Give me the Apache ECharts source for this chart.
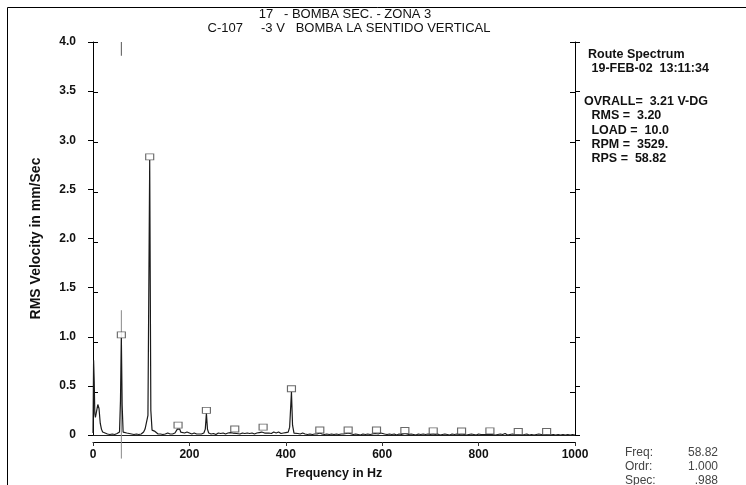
<!DOCTYPE html>
<html>
<head>
<meta charset="utf-8">
<script src="https://cdn.jsdelivr.net/npm/echarts@6/dist/echarts.min.js"></script>
<style>
  html, body { margin: 0; padding: 0; background: #fff; }
  #main { width: 746px; height: 485px; }
</style>
</head>
<body>
<div id="main"></div>
<script>
// spectrum: frequency (Hz) / RMS velocity (mm/s)
var freqHz = [
  0, 1.25, 2.5, 3.75, 5, 7.5, 10, 12.5, 15, 17.5, 20, 25, 30, 35, 40, 45, 50, 53, 55, 57,
  58.82, 60.5, 62.5, 65, 70, 75, 80, 85, 90, 95, 100, 105, 108, 110, 112, 114, 117.64, 120, 122.5, 125,
  127.5, 130, 135, 140, 145, 150, 155, 160, 165, 170, 173, 175, 176.46, 178, 180, 182, 185, 190, 192, 195,
  198, 205, 210, 215, 220, 225, 230, 233, 235.28, 237.5, 240, 245, 250, 255, 260, 265, 270, 275, 280, 285,
  290, 294.1, 298, 302, 305, 310, 315, 320, 325, 330, 335, 340, 345, 350, 352.92, 356, 360, 365, 370, 375,
  380, 385, 390, 395, 400, 405, 408, 411.74, 414, 417, 420, 425, 430, 435, 440, 445, 450, 455, 460, 465,
  470.56, 475, 480, 485, 490, 495, 500, 505, 510, 515, 520, 525, 529.38, 533, 540, 545, 550, 555, 560, 565,
  570, 575, 580, 585, 588.2, 592, 597, 600, 605, 610, 615, 620, 625, 630, 635, 640, 644, 647.02, 650, 655,
  660, 665, 670, 675, 680, 685, 690, 695, 700, 705.84, 710, 715, 720, 725, 730, 735, 740, 745, 750, 755,
  760, 764.66, 770, 775, 780, 785, 790, 795, 800, 805, 808, 811, 815, 820, 823.48, 828, 835, 840, 845, 850,
  855, 860, 865, 870, 875, 882.3, 888, 895, 900, 905, 910, 915, 920, 925, 930, 935, 941.12, 948, 955, 960,
  965, 970, 975, 980, 985, 990, 995, 1000
];
var velocity = [
  0.02, 0.76, 0.55, 0.22, 0.18, 0.2, 0.31, 0.27, 0.12, 0.06, 0.03, 0.02, 0.01, 0.005, 0.01, 0.005, 0.015, 0.01, 0.03, 0.35,
  0.988, 0.3, 0.03, 0.01, 0.02, 0.015, 0.01, 0.005, 0.01, 0.005, 0.01, 0.03, 0.06, 0.04, 0.06, 0.2, 2.80, 0.25, 0.05, 0.03,
  0.04, 0.02, 0.01, 0.01, 0.005, 0.01, 0.02, 0.01, 0.01, 0.02, 0.03, 0.06, 0.07, 0.04, 0.06, 0.03, 0.01, 0.02, 0.01, 0.03,
  0.01, 0.01, 0.02, 0.01, 0.01, 0.01, 0.02, 0.06, 0.22, 0.06, 0.02, 0.01, 0.015, 0.005, 0.02, 0.015, 0.02, 0.01, 0.02, 0.025,
  0.02, 0.03, 0.015, 0.005, 0.01, 0.02, 0.015, 0.02, 0.015, 0.02, 0.01, 0.02, 0.025, 0.03, 0.05, 0.02, 0.03, 0.02, 0.015, 0.03,
  0.02, 0.03, 0.015, 0.02, 0.025, 0.03, 0.08, 0.44, 0.1, 0.02, 0.01, 0.015, 0.01, 0.02, 0.01, 0.005, 0.01, 0.005, 0.01, 0.01,
  0.02, 0.01, 0.005, 0.01, 0.005, 0.01, 0.005, 0.01, 0.005, 0.01, 0.01, 0.015, 0.02, 0.01, 0.005, 0.01, 0.005, 0.0, 0.01, 0.005,
  0.01, 0.005, 0.01, 0.015, 0.02, 0.01, 0.02, 0.005, 0.01, 0.005, 0.01, 0.005, 0.01, 0.0, 0.01, 0.005, 0.01, 0.015, 0.01, 0.005,
  0.01, 0.005, 0.0, 0.01, 0.005, 0.01, 0.005, 0.01, 0.005, 0.012, 0.005, 0.01, 0.0, 0.005, 0.01, 0.005, 0.0, 0.01, 0.005, 0.01,
  0.005, 0.01, 0.005, 0.0, 0.005, 0.01, 0.005, 0.0, 0.01, 0.005, 0.025, 0.005, 0.01, 0.005, 0.012, 0.005, 0.0, 0.005, 0.01, 0.005,
  0.015, 0.0, 0.005, 0.01, 0.005, 0.005, 0.0, 0.005, 0.01, 0.0, 0.005, 0.0, 0.005, 0.01, 0.005, 0.0, 0.005, 0.0, 0.005, 0.0,
  0.005, 0.0, 0.005, 0.0, 0.005, 0.0, 0.005, 0.0
];

// harmonic markers (1X .. 16X of 58.82 Hz)
var harmonicHz = [58.82, 117.64, 176.46, 235.28, 294.1, 352.92, 411.74, 470.56, 529.38, 588.2, 647.02, 705.84, 764.66, 823.48, 882.3, 941.12];
var harmonicAmp = [0.988, 2.80, 0.07, 0.22, 0.03, 0.05, 0.44, 0.02, 0.02, 0.02, 0.015, 0.012, 0.01, 0.012, 0.005, 0.005];

// cursor at 1X
var cursorHz = 58.82;
var cursorSpan = [1.27, -0.24];
var topMark = [4.0, 3.86];

var titleLines = ['17   - BOMBA SEC. - ZONA 3', 'C-107     -3 V   BOMBA LA SENTIDO VERTICAL'];
var infoLines = [
  ['Route Spectrum', 583, 43],
  [' 19-FEB-02  13:11:34', 583, 57],
  ['OVRALL=  3.21 V-DG', 579, 90],
  [' RMS =  3.20', 583, 104],
  [' LOAD =  10.0', 583, 119],
  [' RPM =  3529.', 583, 133],
  [' RPS =  58.82', 583, 147]
];
var cursorLabels = ['Freq:', 'Ordr:', 'Spec:'];
var cursorValues = ['58.82', '1.000', '.988'];

var FONT = '"Liberation Sans", Arial, sans-serif';

var spectrum = freqHz.map(function (f, i) { return [f, velocity[i]] })
var markers = harmonicHz.map(function (f, i) { return [f, harmonicAmp[i]] })

var titles = [
  { text: titleLines[0], left: 340, top: 3, textAlign: 'center',
    textStyle: { fontFamily: FONT, fontSize: 13, fontWeight: 'normal', color: '#111' } },
  { text: titleLines[1], left: 344, top: 17, textAlign: 'center',
    textStyle: { fontFamily: FONT, fontSize: 13, fontWeight: 'normal', color: '#111' } }
]
infoLines.forEach(function (l) {
  titles.push({ text: l[0], left: l[1], top: l[2],
    textStyle: { fontFamily: FONT, fontSize: 12.5, fontWeight: 'bold', color: '#111' } })
})
cursorLabels.forEach(function (t, i) {
  titles.push({ text: t, left: 620, top: 442 + i * 14,
    textStyle: { fontFamily: FONT, fontSize: 12, fontWeight: 'normal', color: '#444' } })
  titles.push({ text: cursorValues[i], left: 713, top: 442 + i * 14, textAlign: 'right',
    textStyle: { fontFamily: FONT, fontSize: 12, fontWeight: 'normal', color: '#444' } })
})

var myChart = echarts.init(document.getElementById('main'))

var option = {
  animation: false,
  backgroundColor: '#fff',
  title: titles,
  graphic: [{
    type: 'rect',
    shape: { x: 7.5, y: 7.5, width: 800, height: 600 },
    style: { fill: 'none', stroke: '#000', lineWidth: 1 }
  }],
  grid: [
    { left: 93, right: 171, top: 42, bottom: 43 },
    { left: 93, right: 171, top: 42, bottom: 43 }
  ],
  xAxis: [
    {
      gridIndex: 0, type: 'value', min: 0, max: 1000, interval: 200, position: 'bottom',
      name: 'Frequency in Hz', nameLocation: 'middle', nameGap: 32,
      nameTextStyle: { fontFamily: FONT, fontSize: 12.5, fontWeight: 'bold', color: '#111' },
      axisLine: { lineStyle: { color: '#222', width: 1 } },
      axisTick: { show: false },
      axisLabel: {
        fontFamily: FONT, fontSize: 12, fontWeight: 'bold', color: '#111', margin: 14,
        formatter: function (v) { return String(v) }
      },
      splitLine: { show: false }
    },
    {
      gridIndex: 1, type: 'value', min: 0, max: 1000, interval: 200, position: 'top',
      axisLine: { lineStyle: { color: '#000', width: 1 } },
      axisTick: { inside: true, length: 4, lineStyle: { color: '#333' } },
      axisLabel: { show: false },
      splitLine: { show: false }
    }
  ],
  yAxis: [
    {
      gridIndex: 0, type: 'value', min: 0, max: 4, interval: 0.5, position: 'left',
      name: 'RMS Velocity in mm/Sec', nameLocation: 'middle', nameGap: 50, nameRotate: 90,
      nameTextStyle: { fontFamily: FONT, fontSize: 14, fontWeight: 'bold', color: '#111' },
      axisLine: { lineStyle: { color: '#000', width: 1 } },
      axisTick: { inside: false, length: 5, lineStyle: { color: '#000' } },
      axisLabel: {
        fontFamily: FONT, fontSize: 12, fontWeight: 'bold', color: '#111', margin: 17,
        formatter: function (v) { return v === 0 ? '0' : v.toFixed(1) }
      },
      splitLine: { show: false }
    },
    {
      gridIndex: 1, type: 'value', min: 0, max: 4, interval: 0.5, position: 'left',
      axisLine: { show: false },
      axisTick: { inside: true, length: 5, lineStyle: { color: '#000' } },
      axisLabel: { show: false },
      splitLine: { show: false }
    },
    {
      gridIndex: 0, type: 'value', min: 0, max: 4, interval: 0.5, position: 'right',
      axisLine: { show: true, lineStyle: { color: '#000', width: 1 } },
      axisTick: { inside: false, length: 5, lineStyle: { color: '#000' } },
      axisLabel: { show: false },
      splitLine: { show: false }
    },
    {
      gridIndex: 1, type: 'value', min: 0, max: 4, interval: 0.5, position: 'right',
      axisLine: { show: false },
      axisTick: { inside: true, length: 5, lineStyle: { color: '#000' } },
      axisLabel: { show: false },
      splitLine: { show: false }
    }
  ],
  series: [
    {
      name: 'cursor',
      type: 'line',
      xAxisIndex: 0, yAxisIndex: 0,
      clip: false,
      symbol: 'none',
      lineStyle: { color: '#888', width: 1 },
      data: cursorSpan.map(function (v) { return [cursorHz, v] }),
      z: 1
    },
    {
      name: 'cursor top',
      type: 'line',
      xAxisIndex: 0, yAxisIndex: 0,
      clip: false,
      symbol: 'none',
      lineStyle: { color: '#555', width: 1 },
      data: topMark.map(function (v) { return [cursorHz, v] }),
      z: 1
    },
    {
      name: 'spectrum',
      type: 'line',
      xAxisIndex: 0, yAxisIndex: 0,
      symbol: 'none',
      lineStyle: { color: '#1a1a1a', width: 1.2 },
      data: spectrum,
      z: 2
    },
    {
      name: 'harmonics',
      type: 'scatter',
      xAxisIndex: 0, yAxisIndex: 0,
      symbol: 'rect',
      symbolSize: [8, 6],
      symbolOffset: [0, -3],
      itemStyle: { color: '#fff', borderColor: '#444', borderWidth: 1 },
      data: markers,
      z: 3
    }
  ]
}

myChart.setOption(option)
</script>
</body>
</html>
